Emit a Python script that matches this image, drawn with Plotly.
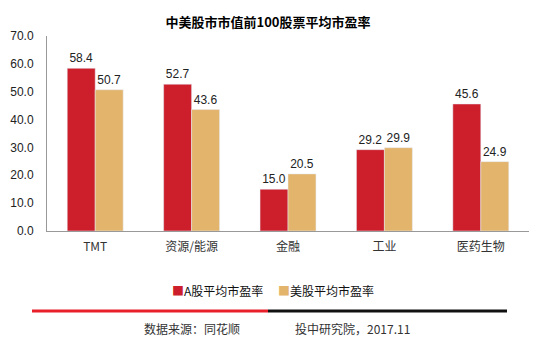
import plotly.graph_objects as go

categories = ["TMT", "资源/能源", "金融", "工业", "医药生物"]
a_share = [58.4, 52.7, 15.0, 29.2, 45.6]
us_share = [50.7, 43.6, 20.5, 29.9, 24.9]
series_names = ["A股平均市盈率", "美股平均市盈率"]
y_ticks = [0, 10, 20, 30, 40, 50, 60, 70]

RED = "#CC1F2B"
TAN = "#E3B46C"
CJK = "Noto Sans CJK SC"
LAT = "Liberation Sans"

L, R, T, B = 47, 11, 36, 111
W, H = 540, 342
pw, ph = W - L - R, H - T - B

def px(x):
    return (x - L) / pw

def py(y):
    return (H - B - y) / ph

fig = go.Figure()
fig.add_trace(go.Bar(x=categories, y=a_share, name=series_names[0], marker_color=RED,
                     text=[f"{v:.1f}" for v in a_share], textposition="outside",
                     textfont=dict(family=LAT, size=12, color="#222"), cliponaxis=False,
                     showlegend=False))
fig.add_trace(go.Bar(x=categories, y=us_share, name=series_names[1], marker_color=TAN,
                     text=[f"{v:.1f}" for v in us_share], textposition="outside",
                     textfont=dict(family=LAT, size=12, color="#222"), cliponaxis=False,
                     showlegend=False))

fig.update_layout(
    width=W, height=H,
    margin=dict(l=L, r=R, t=T, b=B),
    paper_bgcolor="white", plot_bgcolor="white",
    barmode="group", bargap=0.42, bargroupgap=0,
    title=dict(text="<b>中美股市市值前100股票平均市盈率</b>", x=268 / W, xanchor="center",
               y=1 - 22 / H, yanchor="middle", font=dict(family=CJK, size=13, color="#000")),
    xaxis=dict(showline=True, linecolor="#999", linewidth=1, ticks="",
               tickfont=dict(family=CJK, size=12, color="#333"), showgrid=False,
               ticklabelstandoff=5),
    yaxis=dict(range=[0, 70], tickvals=y_ticks, ticktext=[f"{v:.1f}" for v in y_ticks],
               showline=True, linecolor="#999", linewidth=1, showgrid=False, zeroline=False,
               tickfont=dict(family=LAT, size=12, color="#222"), ticks="",
               ticklabelstandoff=10),
)

legend_y = py(290)
fig.add_annotation(text=f"<span style='color:{RED}'>■</span>{series_names[0]}",
                   xref="paper", yref="paper", x=px(170), y=legend_y, xanchor="left",
                   yanchor="middle", showarrow=False,
                   font=dict(family=CJK, size=12, color="#111"))
fig.add_annotation(text=f"<span style='color:{TAN}'>■</span>{series_names[1]}",
                   xref="paper", yref="paper", x=px(276), y=legend_y, xanchor="left",
                   yanchor="middle", showarrow=False,
                   font=dict(family=CJK, size=12, color="#111"))

fig.add_shape(type="line", xref="paper", yref="paper", x0=px(32), x1=px(268),
              y0=py(311), y1=py(311), line=dict(color="#E8202A", width=3))
fig.add_shape(type="line", xref="paper", yref="paper", x0=px(268), x1=px(507),
              y0=py(311), y1=py(311), line=dict(color="#111", width=3))

fig.add_annotation(text="数据来源：同花顺", xref="paper", yref="paper", x=px(142), y=py(328),
                   xanchor="left", yanchor="middle", showarrow=False,
                   font=dict(family=CJK, size=12, color="#333"))
fig.add_annotation(text="投中研究院，2017.11", xref="paper", yref="paper", x=px(293), y=py(328),
                   xanchor="left", yanchor="middle", showarrow=False,
                   font=dict(family=CJK, size=12, color="#333"))

fig.write_html("out.html")
